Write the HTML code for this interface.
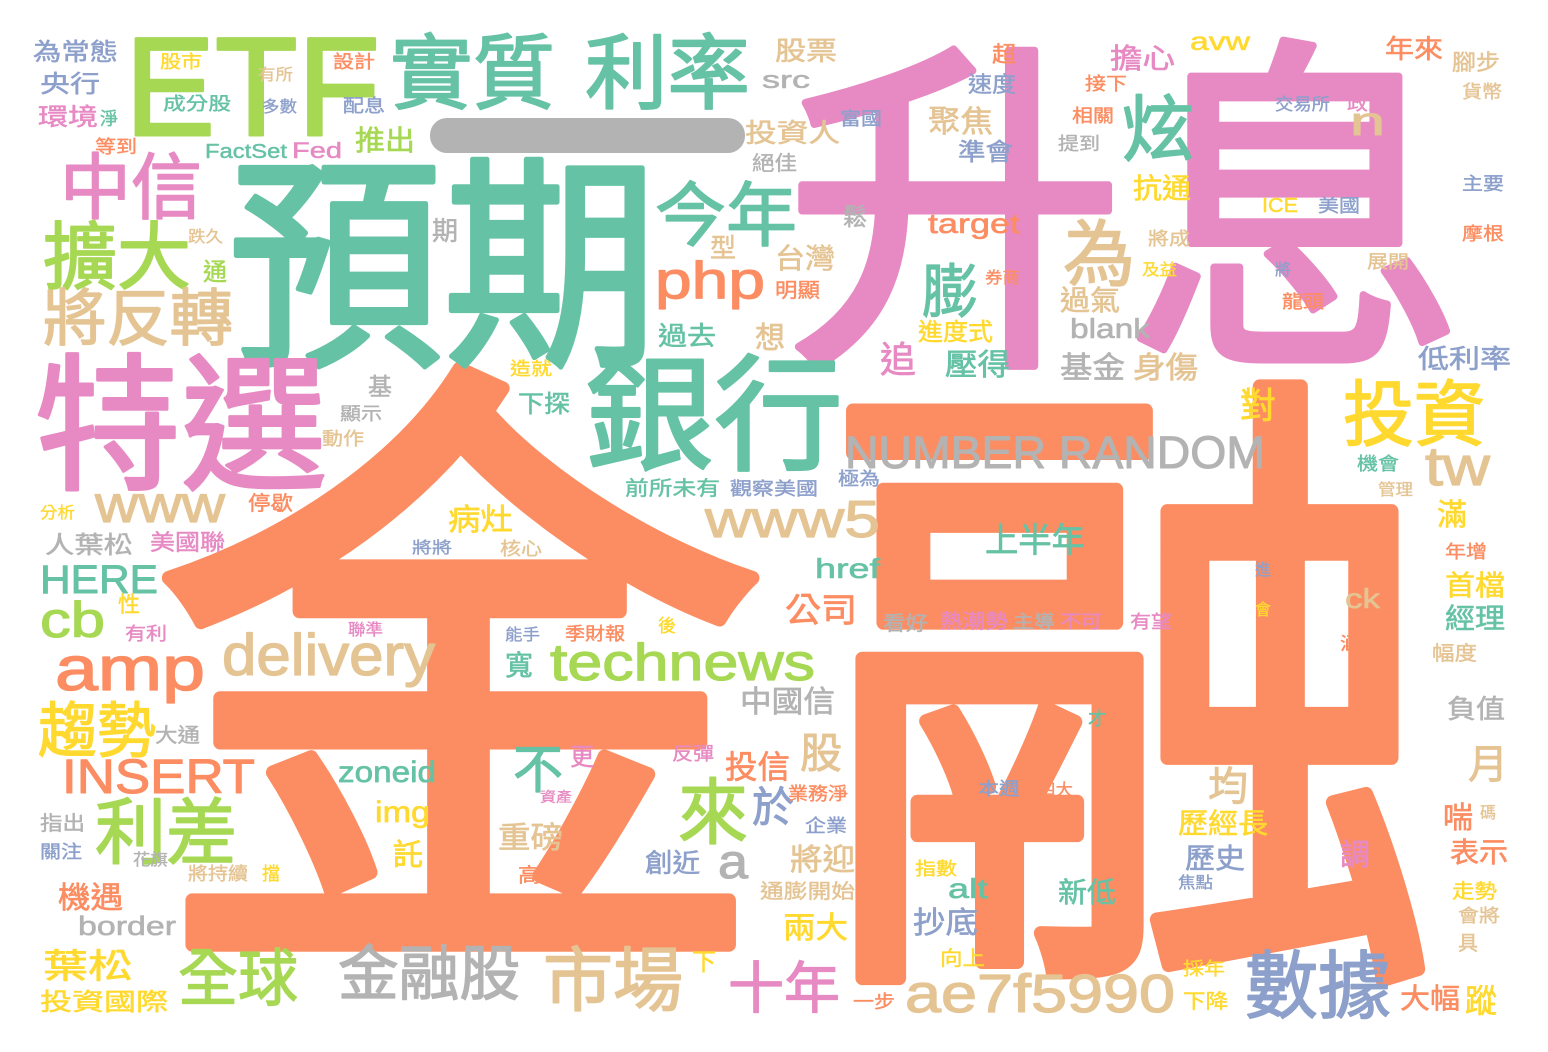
<!DOCTYPE html>
<html><head><meta charset="utf-8">
<style>
html,body{margin:0;padding:0;background:#fff;}
svg{display:block;}
text{font-family:"Liberation Sans","Noto Sans CJK TC",sans-serif;stroke-linejoin:round;stroke-linecap:round;}
</style></head>
<body>
<svg id="cloud" width="1548" height="1052" viewBox="0 0 1548 1052">
<rect x="0" y="0" width="1548" height="1052" fill="#fff"/>
<rect x="430" y="118" width="315" height="35" rx="17" fill="#b3b3b3"/>
</svg>
<script>
const G='#66c2a5',O='#fc8d62',B='#8da0cb',P='#e78ac3',L='#a6d854',Y='#ffd92f',T='#e5c494',R='#b3b3b3';
const words=[
['金',150,912,640,620,O],['融',820,928,650,620,O],['升息',785,338,350,680,P],['預期',228,348,228,430,G],
['特選',35,478,148,292,P],['銀行',585,460,126,258,G],['ETF',125,135,140,255,L],['實質',390,102,82,165,G],
['利率',585,102,82,165,G],['中信',60,213,72,142,P],['擴大',43,283,74,148,L],['將反轉',43,340,62,190,T],
['今年',655,240,70,142,G],['php',655,298,52,110,O],['炫',1122,155,72,72,G],['為',1063,280,72,72,T],
['膨',922,312,58,56,G],['投資',1343,440,72,142,Y],['tw',1425,485,55,65,T],['NUMBER RANDOM',845,468,45,420,R],
['www',95,522,52,130,T],['www5',705,537,52,175,T],['amp',55,690,62,150,O],['delivery',222,675,58,213,T],
['technews',550,680,52,265,L],['趨勢',38,752,60,118,Y],['INSERT',62,793,48,193,O],['利差',95,858,72,142,L],
['全球',178,1000,62,120,L],['金融股',338,995,60,182,R],['市場',543,1005,70,140,T],['十年',728,1008,56,112,P],
['ae7f5990',905,1012,54,270,T],['數據',1245,1012,74,146,B],['來',678,838,72,70,L],['不',513,788,52,50,G],
['上半年',985,552,34,100,G],['cb',40,637,50,65,L],['HERE',40,593,40,118,G],['zoneid',338,782,30,98,G],
['img',375,822,30,55,Y],['a',718,878,48,30,R],['於',752,822,42,42,B],['股',800,768,42,42,T],
['投信',725,778,32,65,O],['月',1468,778,40,40,T],['均',1208,800,40,40,T],['歷經長',1178,833,28,90,Y],
['歷史',1185,868,28,60,B],['喘',1443,828,30,30,O],['表示',1450,862,28,58,O],['調',1340,865,30,30,P],
['重磅',498,848,30,65,T],['託',393,865,30,30,Y],['將迎',790,870,30,65,T],['創近',645,872,26,55,B],
['新低',1058,902,28,58,G],['alt',948,898,28,40,G],['抄底',913,933,30,65,B],['兩大',783,938,30,65,Y],
['機遇',58,908,30,65,O],['border',78,935,27,98,R],['葉松',43,978,34,90,Y],['投資國際',40,1010,24,128,Y],
['大幅',1400,1008,28,60,O],['蹤',1465,1012,32,32,Y],['首檔',1445,595,28,60,Y],['經理',1445,628,28,60,G],
['滿',1437,525,30,30,Y],['負值',1447,718,26,58,R],['對',1240,418,36,36,Y],['低利率',1418,368,26,93,B],
['身傷',1133,378,30,65,T],['基金',1060,378,30,65,R],['壓得',945,375,30,65,G],['追',880,372,36,36,P],
['過去',658,345,26,58,G],['想',755,348,30,30,T],['blank',1070,338,28,80,R],['過氣',1060,310,28,60,T],
['進度式',918,340,24,75,Y],['型',710,257,26,26,T],['台灣',775,268,28,60,T],['明顯',775,297,20,45,O],
['target',928,233,28,92,O],['抗通',1133,198,28,58,Y],['擔心',1110,68,28,65,P],['avw',1190,50,25,60,Y],
['年來',1385,58,26,58,O],['腳步',1452,70,22,48,T],['貨幣',1462,98,18,40,T],['交易所',1275,110,17,55,B],
['政策',1347,110,18,42,P],['n',1350,135,40,35,T],['聚焦',928,132,30,65,T],['準會',958,160,24,55,B],
['速度',968,92,22,48,B],['超',992,62,22,24,O],['接下',1085,90,18,42,O],['相關',1072,122,18,42,O],
['提到',1058,150,18,42,R],['股票',775,60,26,62,T],['src',762,88,24,48,R],['投資人',745,142,26,95,T],
['富國',840,125,18,42,B],['絕佳',752,170,20,45,R],['鬆',843,225,24,24,R],['期',432,240,26,26,R],
['為常態',33,60,24,85,B],['央行',40,92,24,60,B],['環境',38,125,24,60,P],['淨',100,125,18,18,G],['股市',160,68,18,42,Y],
['有所',258,80,16,35,T],['設計',333,68,18,42,O],['成分股',163,110,18,68,G],['多數',262,112,16,35,B],
['配息',343,112,18,42,B],['等到',95,153,18,42,O],['FactSet',205,158,20,82,G],['Fed',292,158,22,50,P],
['推出',355,150,28,60,L],['跌久',188,242,16,35,T],['通',203,280,24,24,L],['下探',518,412,24,52,G],
['造就',510,375,18,42,Y],['基',368,395,24,24,R],['顯示',340,420,18,42,R],['動作',322,445,18,42,T],
['前所未有',625,495,20,95,G],['觀察美國',730,495,18,88,B],['極為',838,485,18,42,B],['病灶',448,530,30,65,Y],
['將將',412,553,16,40,B],['核心',500,555,18,42,T],['人葉松',45,553,24,88,R],['美國聯',150,550,22,75,P],
['分析',40,518,16,35,Y],['停歇',248,510,20,45,O],['href',815,578,28,65,G],['公司',785,622,34,72,O],
['性',118,612,22,22,Y],['有利',125,640,18,42,P],['聯準',348,635,16,35,P],['能手',505,640,16,35,B],
['季財報',565,640,18,60,O],['後',658,632,18,18,Y],['寬',505,675,28,28,G],['看好',883,630,20,45,R],
['熱潮勢',940,628,20,68,P],['主導',1013,628,18,42,R],['不可',1060,628,18,42,P],['有望',1130,628,18,42,P],
['ck',1345,608,28,35,T],['涵蓋',1340,650,18,42,O],['幅度',1432,660,20,45,T],['年增',1445,558,18,42,O],
['進',1255,575,16,16,B],['會',1255,615,16,16,Y],['機會',1357,470,18,42,G],['管理',1378,495,16,35,T],
['中國信',740,712,30,95,R],['大通',155,742,20,45,R],['反彈',672,760,18,42,P],['更',570,765,24,24,P],
['才',1088,725,18,18,G],['本週',978,795,18,42,B],['四大',1038,795,16,35,O],['業務淨',788,800,18,60,O],
['資產',540,802,14,32,P],['企業',805,832,18,42,B],['指出',40,830,20,45,R],['關注',40,858,18,42,B],
['碼',1480,818,16,16,T],['將持續',188,880,18,60,T],['擋',262,880,18,18,Y],['花旗',133,865,16,35,R],
['高度',518,882,20,45,O],['指數',915,875,18,42,Y],['通膨開始',760,898,20,95,T],['焦點',1178,888,16,35,B],
['走勢',1452,898,20,45,Y],['會將',1458,922,18,42,T],['具',1458,950,20,20,T],['向上',940,965,20,45,Y],
['下',692,970,24,24,Y],['一步',853,1008,18,42,O],['採年',1183,975,18,42,Y],['下降',1183,1008,20,45,Y],
['ICE',1262,212,20,36,Y],['美國',1318,212,18,42,B],['主要',1462,190,18,42,B],['摩根',1462,240,18,42,O],
['將成',1148,245,18,42,T],['及益',1142,275,16,35,Y],['券商',985,283,16,35,O],['將',1275,275,16,16,B],
['展開',1367,268,18,42,T],['龍頭',1282,308,18,42,O]
];
const svg=document.getElementById('cloud');
const NS='http://www.w3.org/2000/svg';
words.forEach(function(w){
  const t=document.createElementNS(NS,'text');
  t.setAttribute('x',w[1]);
  t.setAttribute('y',w[2]);
  t.setAttribute('font-size',w[3]);
  t.setAttribute('textLength',w[4]);
  t.setAttribute('lengthAdjust','spacingAndGlyphs');
  t.setAttribute('fill',w[5]);
  t.setAttribute('stroke',w[5]);
  t.setAttribute('stroke-width',(w[3]*0.022).toFixed(2));
  
  
  t.textContent=w[0];
  svg.appendChild(t);
});
</script>
</body></html>
